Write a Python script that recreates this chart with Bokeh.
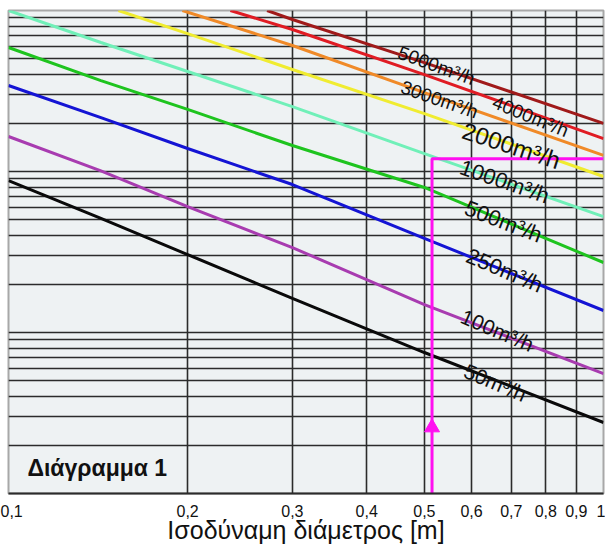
from bokeh.plotting import figure
from bokeh.models import FixedTicker, CustomJSTickFormatter, ColumnDataSource, Range1d, Label
from bokeh.embed import file_html
from bokeh.resources import INLINE
from bokeh.core.properties import value

# ---- data ----
x_ticks = [0.1, 0.2, 0.3, 0.4, 0.5, 0.6, 0.7, 0.8, 0.9, 1.0]

d_50 = [0.1, 0.143, 0.2, 0.3, 0.5, 1.0]
v_50 = [8.79, 5.11, 3.05, 1.63, 0.751, 0.276]
d_100 = [0.1, 0.143, 0.2, 0.3, 0.5, 1.0]
v_100 = [16.5, 10.1, 6.06, 3.37, 1.49, 0.556]
d_250 = [0.1, 0.143, 0.2, 0.3, 0.5, 1.0]
v_250 = [34.2, 21.6, 13.9, 8.30, 3.84, 1.37]
d_500 = [0.1, 0.143, 0.2, 0.3, 0.5, 1.0]
v_500 = [58.9, 36.7, 24.3, 14.5, 7.96, 2.72]
d_1000 = [0.1, 0.143, 0.2, 0.3, 0.5, 1.0]
v_1000 = [100, 63.3, 41.8, 25.3, 12.9, 5.25]
d_2000 = [0.153, 0.2, 0.3, 0.5, 1.0]
v_2000 = [100, 71.9, 43.0, 22.9, 9.31]
d_3000 = [0.196, 0.3, 0.5, 1.0]
v_3000 = [100, 60.6, 30.9, 12.6]
d_4000 = [0.236, 0.3, 0.5, 1.0]
v_4000 = [100, 76.2, 40.0, 16.0]
d_5000 = [0.272, 0.3, 0.5, 1.0]
v_5000 = [100, 87.9, 47.5, 19.9]

flow_names = ["50m³/h", "100m³/h", "250m³/h", "500m³/h", "1000m³/h",
              "2000m³/h", "3000m³/h", "4000m³/h", "5000m³/h"]
x_title = "Ισοδύναμη διάμετρος [m]"

guide_d = 0.515
guide_v = 12.0
arrow_v = 0.257

# ---- styles / positions ----
colors = ["#0a0a0a", "#a83cb0", "#1414d4", "#1ec41e", "#70f0b8",
          "#f0ec30", "#f08a28", "#e01c24", "#a01a1a"]
series = [(d_50, v_50), (d_100, v_100), (d_250, v_250), (d_500, v_500),
          (d_1000, v_1000), (d_2000, v_2000), (d_3000, v_3000),
          (d_4000, v_4000), (d_5000, v_5000)]
lab_x = [0.658, 0.663, 0.682, 0.679, 0.682, 0.700, 0.530, 0.754, 0.524]
lab_y = [0.489, 1.03, 2.43, 4.89, 8.67, 14.5, 28.0, 22.0, 45.5]
lab_size = ["21px", "21px", "22px", "22px", "22px", "24px", "19px", "19px", "19px"]
lab_angle_deg = [23, 23, 23, 21, 19, 18, 19, 22, 20]

p = figure(width=605, height=548, x_axis_type="log", y_axis_type="log",
           x_range=Range1d(0.1, 1.0), y_range=Range1d(0.1, 100),
           output_backend="svg", toolbar_location=None,
           min_border_left=8, min_border_right=2, min_border_top=10,
           min_border_bottom=55)
p.styles = {"position": "absolute", "left": "0px", "top": "0px"}

p.background_fill_color = "#eef2f3"
p.border_fill_color = "white"
p.outline_line_color = "#a8a8a8"
p.outline_line_width = 2

y_grid = [k * 10.0 ** e for e in (-1, 0, 1) for k in range(1, 10)]
p.xgrid.ticker = FixedTicker(ticks=x_ticks[:-1])
p.ygrid.ticker = FixedTicker(ticks=y_grid)
for g in (p.xgrid[0], p.ygrid[0]):
    g.grid_line_color = "#2b2b2b"
    g.grid_line_width = 1.6
    g.grid_line_alpha = 1.0
    g.minor_grid_line_color = None

p.yaxis.visible = False
ax = p.xaxis[0]
ax.ticker = FixedTicker(ticks=x_ticks, minor_ticks=[])
ax.formatter = CustomJSTickFormatter(
    code="return (Math.round(tick*10)/10).toString().replace('.', ',');")
ax.major_tick_line_color = None
ax.minor_tick_line_color = None
ax.axis_line_color = "#2b2b2b"
ax.axis_line_width = 2
ax.major_label_standoff = 5
ax.major_label_text_font = "Liberation Sans"
ax.major_label_text_font_size = "16px"
ax.major_label_text_color = "#111111"
ax.major_label_text_line_height = 0.8
ax.axis_label = x_title
ax.axis_label_text_font = "Liberation Sans"
ax.axis_label_text_font_size = "25px"
ax.axis_label_text_font_style = "normal"
ax.axis_label_text_color = "#111111"
ax.axis_label_text_line_height = 0.8
ax.axis_label_standoff = -4

for (d, v), c in zip(series, colors):
    p.line(d, v, line_color=c, line_width=3)

# magenta guide
p.line([guide_d, guide_d, 1.0], [0.1, guide_v, guide_v], line_color="#ff10f0", line_width=3)
p.scatter([guide_d], [arrow_v], marker="triangle", size=15,
          fill_color="#ff10f0", line_color="#ff10f0")

src = ColumnDataSource(dict(x=lab_x, y=lab_y, t=flow_names, s=lab_size,
                            a=[-deg * 3.14159265 / 180 for deg in lab_angle_deg]))
p.text(x="x", y="y", text="t", angle="a", text_font_size="s", source=src,
       text_font=value("Liberation Sans"), text_align="center",
       text_baseline="middle", text_color="#111111")

p.add_layout(Label(x=0.1076, y=0.143, text="Διάγραμμα 1", text_font="Liberation Sans",
                   text_font_size="23px", text_font_style="bold",
                   text_align="left", text_baseline="middle", text_color="#111111"))

open("out.html", "w").write(file_html(p, INLINE))
